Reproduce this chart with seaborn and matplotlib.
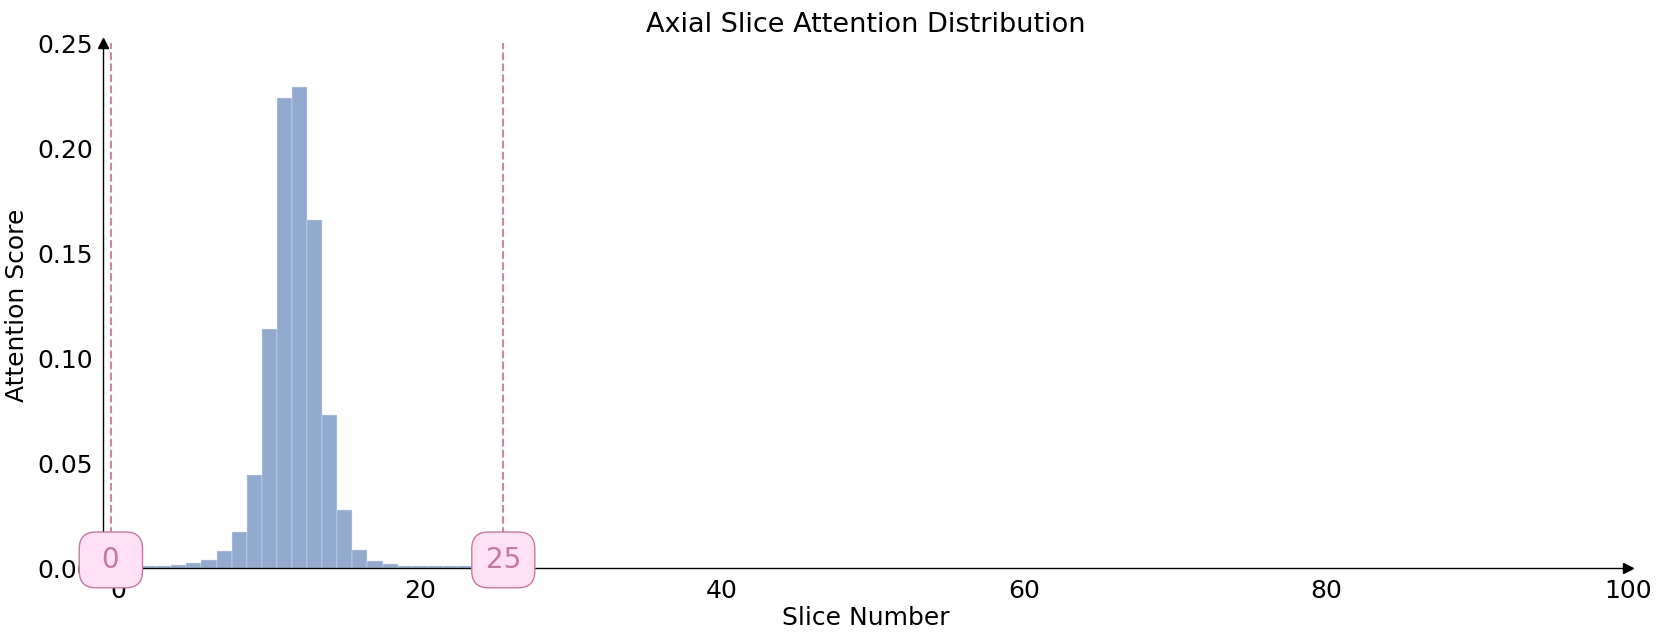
import matplotlib
matplotlib.use("Agg")
import matplotlib.pyplot as plt
import seaborn as sns
import numpy as np
import pandas as pd

slices = list(range(0, 26))
scores = [0.0006, 0.0008, 0.0009, 0.0012, 0.0016, 0.0024, 0.0041, 0.0084, 0.0171,
          0.0444, 0.1140, 0.2238, 0.2293, 0.1659, 0.0730, 0.0276, 0.0087, 0.0036,
          0.0019, 0.0012, 0.0009, 0.0009, 0.0009, 0.0009, 0.0008, 0.0006]
range_lines = [-0.5, 25.5]
range_labels = ["0", "25"]
x_ticks = [0, 20, 40, 60, 80, 100]

title = "Axial Slice Attention Distribution"
xlabel = "Slice Number"
ylabel = "Attention Score"

sns.set_style("white")
plt.rcParams['font.family'] = ['DejaVu Sans']
plt.rcParams['text.color'] = 'black'
plt.rcParams['axes.labelcolor'] = 'black'

df = pd.DataFrame({"slice": slices, "score": scores})

fig = plt.figure(figsize=(16.61, 6.41), dpi=100)
ax = fig.add_axes([0.0622, 0.1134, 0.9178, 0.8191])

sns.histplot(data=df, x="slice", weights="score", discrete=True, ax=ax,
             color="#4c72b0", alpha=0.6, edgecolor="#dfe6f2", linewidth=0.3)

ax.set_xlim(-1, 100)
ax.set_ylim(0, 0.25)
ax.set_xticks(x_ticks)
ax.set_yticks([0.0, 0.05, 0.10, 0.15, 0.20, 0.25])
ax.set_yticklabels(["0.00", "0.05", "0.10", "0.15", "0.20", "0.25"])
ax.tick_params(axis="both", labelsize=18, length=4, width=0.8, colors="#555555",
               labelcolor="black")

for s in ["top", "right"]:
    ax.spines[s].set_visible(False)
for s in ["left", "bottom"]:
    ax.spines[s].set_color("black")
    ax.spines[s].set_linewidth(1.0)

ax.plot(1, 0, ">k", transform=ax.transAxes, clip_on=False, markersize=7)
ax.plot(0, 1, "^k", transform=ax.transAxes, clip_on=False, markersize=7)

for xv, lab in zip(range_lines, range_labels):
    shown = f" {lab} " if len(lab) == 1 else lab
    ax.axvline(xv, color="#c27ba0", linestyle="--", linewidth=1.5, alpha=0.9, zorder=3)
    ax.text(xv, 0.004, shown, ha="center", va="center", fontsize=20, color="#c27ba0",
            zorder=10, clip_on=False,
            bbox=dict(boxstyle="round,pad=0.5,rounding_size=0.6", facecolor="#ffe0f5",
                      edgecolor="#c27ba0", linewidth=1.0))

ax.set_title(title, fontsize=19.5, pad=8)
ax.set_xlabel(xlabel, fontsize=18, labelpad=2)
ax.set_ylabel(ylabel, fontsize=18, labelpad=6)

fig.savefig("out.png", dpi=100)
